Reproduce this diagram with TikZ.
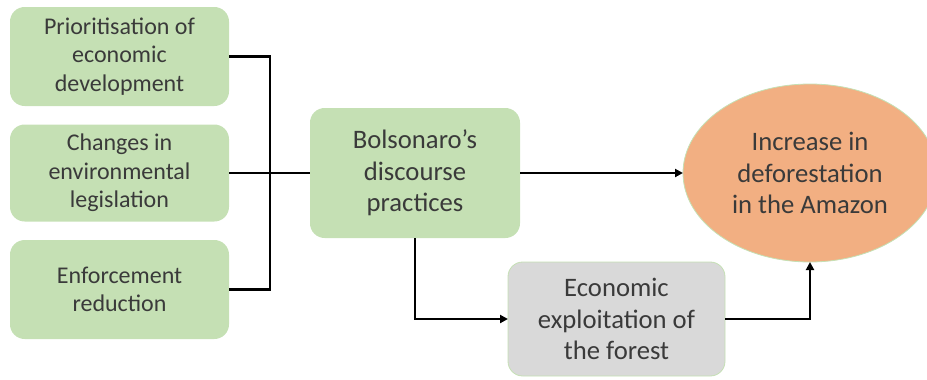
\documentclass[tikz,border=0pt]{standalone}
\usepackage{fontspec}
\setmainfont{Carlito}
\usetikzlibrary{arrows.meta,shapes.geometric}
\definecolor{boxgreen}{HTML}{C5E0B4}
\definecolor{boxgray}{HTML}{D9D9D9}
\definecolor{boxorange}{HTML}{F2AF82}
\definecolor{txtgray}{HTML}{3A3A3A}
\tikzset{
  box/.style={rounded corners=11pt, inner sep=0pt, outer sep=0pt, align=center,
    text=txtgray, font=\fontsize{18}{21.5}\selectfont},
  bigtext/.style={font=\fontsize{20}{23.8}\selectfont},
  greenbox/.style={box, fill=boxgreen},
  graybox/.style={box, fill=boxgray, draw=boxgreen, line width=0.6pt},
  link/.style={line width=2.2pt},
  arr/.style={line width=2pt, -{Triangle[length=6pt,width=6pt]}}
}
\begin{document}
\begin{tikzpicture}[x=0.75pt,y=-0.75pt]
\useasboundingbox (0,0) rectangle (927,379);
\node[greenbox, minimum width=164.25pt, minimum height=74.25pt] (prio) at (119.5,56.5) {Prioritisation of\\economic\\development};
\node[greenbox, minimum width=164.25pt, minimum height=72.75pt] (chg) at (119.5,173) {Changes in\\environmental\\legislation};
\node[greenbox, minimum width=164.25pt, minimum height=74.25pt] (enf) at (119.5,289.5) {Enforcement\\reduction};
\node[greenbox, bigtext, minimum width=157.5pt, minimum height=97.5pt] (bols) at (415,173) {Bolsonaro’s\\discourse\\practices};
\node[graybox, bigtext, minimum width=162.75pt, minimum height=85.5pt] (econ) at (616.5,319) {Economic\\exploitation of\\the forest};
\node[ellipse, fill=boxorange, draw=boxgreen, line width=0.6pt, inner sep=0pt, outer sep=0pt,
  minimum width=190.5pt, minimum height=133.5pt, align=center, text=txtgray, bigtext] (amaz) at (810,173) {Increase in\\deforestation\\in the Amazon};
\draw[link] (prio.east) -- ++(41,0) |- (enf.east);
\draw[link] (chg.east) -- (bols.west);
\draw[arr] (bols.east) -- (amaz.west);
\draw[arr] (bols.south) |- (econ.west);
\draw[arr] (econ.east) -| (amaz.south);
\end{tikzpicture}
\end{document}
